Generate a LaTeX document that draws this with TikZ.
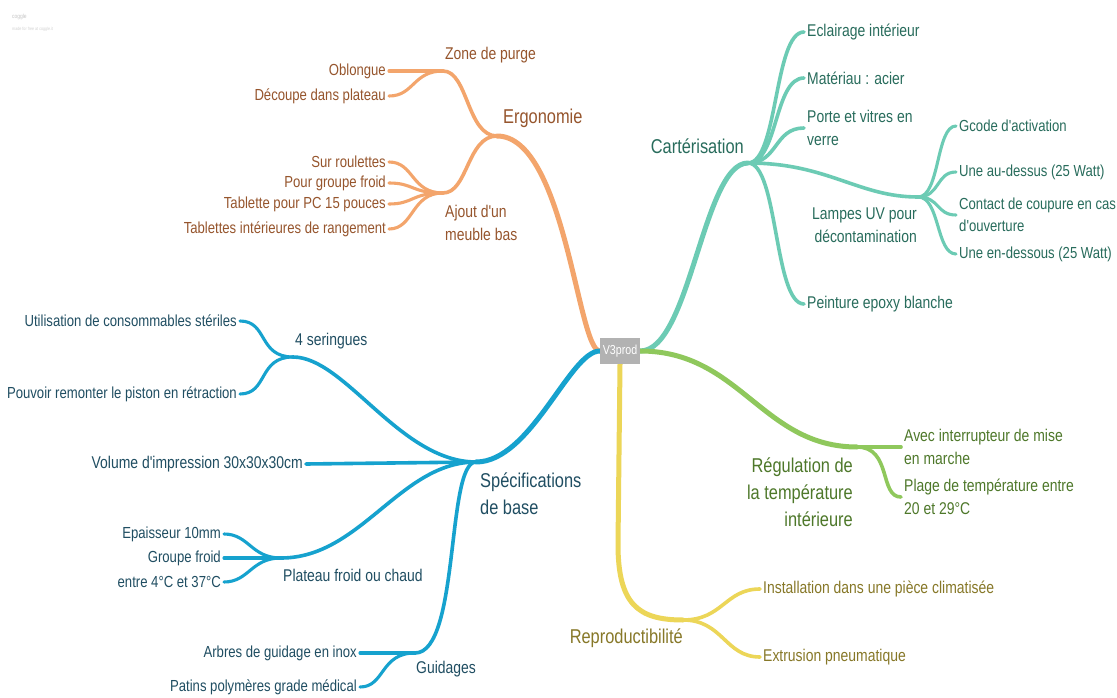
\documentclass[tikz,border=0pt]{standalone}
\usepackage{fontspec}
\setmainfont{Liberation Sans}[FakeStretch=0.82]
\newfontfamily\cfont{Liberation Sans}[FakeStretch=0.82]
\pgfdeclarelayer{bg}
\pgfsetlayers{bg,main}
\definecolor{orL}{RGB}{243,165,108}
\definecolor{orT}{RGB}{150,85,45}
\definecolor{tlL}{RGB}{108,203,180}
\definecolor{tlT}{RGB}{40,108,92}
\definecolor{grL}{RGB}{143,200,92}
\definecolor{grT}{RGB}{78,120,42}
\definecolor{ylL}{RGB}{236,214,88}
\definecolor{ylT}{RGB}{135,120,40}
\definecolor{blL}{RGB}{22,162,206}
\definecolor{blT}{RGB}{32,78,98}
\definecolor{rootgray}{RGB}{178,178,178}
\tikzset{
  lvA/.style={inner sep=0pt, font=\cfont\fontsize{20}{27}\selectfont},
  lvB/.style={inner sep=0pt, font=\cfont\fontsize{17}{23}\selectfont},
  lvC/.style={inner sep=0pt, font=\cfont\fontsize{16}{22}\selectfont},
  brA/.style={line width=5pt, line cap=round},
  brB/.style={line width=3.6pt, line cap=round},
  brC/.style={line width=3.1pt, line cap=round}
}
\begin{document}
\begin{tikzpicture}[x=1pt,y=-1pt]
\useasboundingbox (0,0) rectangle (1117,698);

% watermark
\node[anchor=west, text=gray!45, font=\cfont\fontsize{6}{7}\selectfont, inner sep=0pt] (wm1) at (12,17) {coggle};
\node[anchor=west, text=gray!35, font=\cfont\fontsize{4.5}{5}\selectfont, inner sep=0pt] (wm2) at (12,29) {made for free at coggle.it};

% root
\node[fill=rootgray, text=white, minimum width=40pt, minimum height=26pt, inner sep=0pt, font=\cfont\fontsize{13}{15}\selectfont] (root) at (620,351) {V3prod};

% ---------- Ergonomie (orange)
\coordinate (ergoJ) at (497,136);
\coordinate (zoneJ) at (443,71);
\coordinate (ajoutJ) at (443,193);
\node[lvA, text=orT, anchor=west] (ergo) at (503,118) {Ergonomie};
\node[lvB, text=orT, anchor=west] (zone) at (445,55) {Zone de purge};
\node[lvC, text=orT, anchor=east] (oblong) at (386,71) {Oblongue};
\node[lvC, text=orT, anchor=east] (decoupe) at (386,96) {Découpe dans plateau};
\node[lvB, text=orT, anchor=west, align=left] (ajout) at (445,223) {Ajout d'un\\meuble bas};
\node[lvC, text=orT, anchor=east] (roul) at (386,162) {Sur roulettes};
\node[lvC, text=orT, anchor=east] (pgf) at (386,183) {Pour groupe froid};
\node[lvC, text=orT, anchor=east] (tabpc) at (386,204) {Tablette pour PC 15 pouces};
\node[lvC, text=orT, anchor=east] (tabint) at (386,229) {Tablettes intérieures de rangement};

% ---------- Cartérisation (teal)
\coordinate (cartJ) at (748,163);
\coordinate (lampJ) at (918,197);
\node[lvA, text=tlT, anchor=east] (cart) at (744,146) {Cartérisation};
\node[lvB, text=tlT, anchor=west] (ecl) at (807,32) {Eclairage intérieur};
\node[lvB, text=tlT, anchor=west] (mat) at (807,78) {Matériau : acier};
\node[lvB, text=tlT, anchor=west, align=left] (porte) at (807,128) {Porte et vitres en\\verre};
\node[lvB, text=tlT, anchor=east, align=right] (lamp) at (917,225) {Lampes UV pour\\décontamination};
\node[lvB, text=tlT, anchor=west] (peint) at (807,304) {Peinture epoxy blanche};
\node[lvC, text=tlT, anchor=west] (gcode) at (959,126) {Gcode d'activation};
\node[lvC, text=tlT, anchor=west] (audessus) at (959,172) {Une au-dessus (25 Watt)};
\node[lvC, text=tlT, anchor=west, align=left] (contact) at (959,215) {Contact de coupure en cas\\d'ouverture};
\node[lvC, text=tlT, anchor=west] (endessous) at (959,254) {Une en-dessous (25 Watt)};

% ---------- Régulation (green)
\coordinate (regJ) at (857,447);
\node[lvA, text=grT, anchor=east, align=right] (reg) at (853,492) {Régulation de\\la température\\intérieure};
\node[lvB, text=grT, anchor=west, align=left] (avec) at (904,447) {Avec interrupteur de mise\\en marche};
\node[lvB, text=grT, anchor=west, align=left] (plage) at (904,497) {Plage de température entre\\20 et 29°C};

% ---------- Reproductibilité (yellow)
\coordinate (repJ) at (683,620);
\node[lvA, text=ylT, anchor=east] (rep) at (683,638) {Reproductibilité};
\node[lvB, text=ylT, anchor=west] (install) at (763,589) {Installation dans une pièce climatisée};
\node[lvB, text=ylT, anchor=west] (extr) at (763,657) {Extrusion pneumatique};

% ---------- Spécifications de base (blue)
\coordinate (specJ) at (476,462);
\coordinate (serJ) at (293,357);
\coordinate (platJ) at (281,558);
\coordinate (guidJ) at (415,653);
\node[lvA, text=blT, anchor=west, align=left] (spec) at (480,494) {Spécifications\\de base};
\node[lvB, text=blT, anchor=west] (ser) at (295,341) {4 seringues};
\node[lvC, text=blT, anchor=east] (util) at (237,321) {Utilisation de consommables stériles};
\node[lvC, text=blT, anchor=east] (pouv) at (237,394) {Pouvoir remonter le piston en rétraction};
\node[lvB, text=blT, anchor=east] (vol) at (303,464) {Volume d'impression 30x30x30cm};
\node[lvB, text=blT, anchor=west] (plat) at (283,575) {Plateau froid ou chaud};
\node[lvC, text=blT, anchor=east] (epai) at (221,534) {Epaisseur 10mm};
\node[lvC, text=blT, anchor=east] (grf) at (221,558) {Groupe froid};
\node[lvC, text=blT, anchor=east] (entre) at (221,582) {entre 4°C et 37°C};
\node[lvB, text=blT, anchor=west] (guid) at (416,669) {Guidages};
\node[lvC, text=blT, anchor=east] (arbres) at (357,653) {Arbres de guidage en inox};
\node[lvC, text=blT, anchor=east] (patins) at (357,687) {Patins polymères grade médical};

\begin{pgfonlayer}{bg}
\fill[white] (0,0) rectangle (1117,698);
% orange
\draw[brA, orL] (root.west) .. controls +(-22,0) and +(68,0) .. (ergoJ);
\draw[brB, orL] (ergoJ) .. controls +(-30,0) and +(25,0) .. (zoneJ);
\draw[brB, orL] (ergoJ) .. controls +(-30,0) and +(25,0) .. (ajoutJ);
\draw[brC, orL] (zoneJ) -- ([xshift=3pt]oblong.east);
\draw[brC, orL] (zoneJ) .. controls +(-30,0) and +(25,0) .. ([xshift=3pt]decoupe.east);
\draw[brC, orL] (ajoutJ) .. controls +(-32,0) and +(25,0) .. ([xshift=3pt]roul.east);
\draw[brC, orL] (ajoutJ) .. controls +(-32,0) and +(25,0) .. ([xshift=3pt]pgf.east);
\draw[brC, orL] (ajoutJ) .. controls +(-32,0) and +(25,0) .. ([xshift=3pt]tabpc.east);
\draw[brC, orL] (ajoutJ) .. controls +(-32,0) and +(25,0) .. ([xshift=3pt]tabint.east);
% teal
\draw[brA, tlL] (root.east) .. controls +(50,0) and +(-45,0) .. (cartJ);
\draw[brB, tlL] (cartJ) .. controls +(30,0) and +(-30,0) .. ([xshift=-3pt]ecl.west);
\draw[brB, tlL] (cartJ) .. controls +(30,0) and +(-30,0) .. ([xshift=-3pt]mat.west);
\draw[brB, tlL] (cartJ) .. controls +(30,0) and +(-30,0) .. ([xshift=-3pt]porte.west);
\draw[brB, tlL] (cartJ) .. controls +(30,0) and +(-30,0) .. ([xshift=-3pt]peint.west);
\draw[brB, tlL] (cartJ) .. controls +(80,0) and +(-60,0) .. (lampJ);
\draw[brC, tlL] (lampJ) .. controls +(22,0) and +(-20,0) .. ([xshift=-3pt]gcode.west);
\draw[brC, tlL] (lampJ) .. controls +(22,0) and +(-20,0) .. ([xshift=-3pt]audessus.west);
\draw[brC, tlL] (lampJ) .. controls +(22,0) and +(-20,0) .. ([xshift=-3pt]contact.west);
\draw[brC, tlL] (lampJ) .. controls +(22,0) and +(-20,0) .. ([xshift=-3pt]endessous.west);
% green
\draw[brA, grL] (root.east) .. controls +(100,0) and +(-95,0) .. (regJ);
\draw[brB, grL] (regJ) -- ([xshift=-3pt]avec.west);
\draw[brB, grL] (regJ) .. controls +(35,0) and +(-22,0) .. ([xshift=-3pt]plage.west);
% yellow
\draw[brA, ylL] (root.south) -- ++(-2,180) .. controls +(0,60) and +(-45,0) .. (repJ);
\draw[brB, ylL] (repJ) .. controls +(40,0) and +(-35,0) .. ([xshift=-3pt]install.west);
\draw[brB, ylL] (repJ) .. controls +(40,0) and +(-35,0) .. ([xshift=-3pt]extr.west);
% blue
\draw[brA, blL] (root.west) .. controls +(-30,0) and +(55,0) .. (specJ);
\draw[brB, blL] (specJ) .. controls +(-76,0) and +(52,0) .. (serJ);
\draw[brC, blL] (serJ) .. controls +(-35,0) and +(28,0) .. ([xshift=3pt]util.east);
\draw[brC, blL] (serJ) .. controls +(-35,0) and +(28,0) .. ([xshift=3pt]pouv.east);
\draw[brB, blL] (specJ) -- ([xshift=3pt]vol.east);
\draw[brB, blL] (specJ) .. controls +(-76,0) and +(80,0) .. (platJ);
\draw[brC, blL] (platJ) .. controls +(-30,0) and +(25,0) .. ([xshift=3pt]epai.east);
\draw[brC, blL] (platJ) -- ([xshift=3pt]grf.east);
\draw[brC, blL] (platJ) .. controls +(-30,0) and +(25,0) .. ([xshift=3pt]entre.east);
\draw[brB, blL] (specJ) .. controls +(-30,0) and +(45,0) .. (guidJ);
\draw[brC, blL] (guidJ) -- ([xshift=3pt]arbres.east);
\draw[brC, blL] (guidJ) .. controls +(-35,0) and +(25,0) .. ([xshift=3pt]patins.east);
\end{pgfonlayer}
\end{tikzpicture}
\end{document}
